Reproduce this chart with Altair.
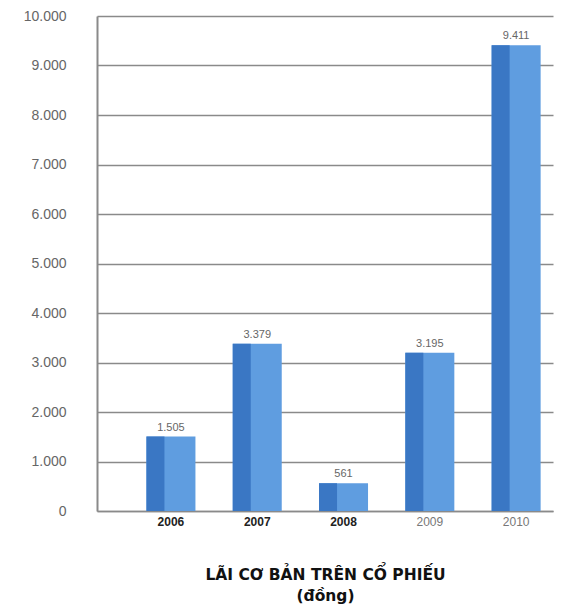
import altair as alt
import pandas as pd

years = ["2006", "2007", "2008", "2009", "2010"]
eps = [1505, 3379, 561, 3195, 9411]
labels = ["1.505", "3.379", "561", "3.195", "9.411"]

df = pd.DataFrame({"year": years, "eps": eps, "label": labels})

FONT = "Liberation Sans"

x_enc = alt.X(
    "year:N",
    sort=years,
    scale=alt.Scale(paddingInner=0.432, paddingOuter=0.358, align=0.8),
    axis=alt.Axis(
        title=["LÃI CƠ BẢN TRÊN CỔ PHIẾU", "(đồng)"],
        titleFont="DejaVu Sans",
        titleFontSize=15.5,
        titleFontWeight="bold",
        titleColor="#111111",
        titlePadding=40,
        titleLineHeight=21,
        labelAngle=0,
        labelFont=FONT,
        labelFontSize=12,
        labelPadding=5,
        labelColor={"condition": {"test": "datum.value <= '2008'", "value": "#222222"}, "value": "#777777"},
        labelFontWeight={"condition": {"test": "datum.value <= '2008'", "value": "bold"}, "value": "normal"},
        ticks=False,
        domainColor="#8a8a8a",
        domainWidth=1.5,
    ),
)

y_enc = alt.Y(
    "eps:Q",
    scale=alt.Scale(domain=[0, 10000], nice=False),
    axis=alt.Axis(
        title=None,
        values=list(range(0, 10001, 1000)),
        labelExpr="replace(format(datum.value, ','), ',', '.')",
        labelFont=FONT,
        labelFontSize=14,
        labelColor="#666666",
        labelPadding=31,
        ticks=False,
        domainColor="#8a8a8a",
        domainWidth=2,
        grid=True,
        gridColor="#8a8a8a",
        gridWidth=1.5,
    ),
)

base = alt.Chart(df)

light = base.mark_bar(color="#5f9de0", width=49).encode(x=x_enc, y=y_enc)
dark = base.mark_bar(color="#3a77c4", width=18, xOffset=-15.5).encode(x=x_enc, y=y_enc)
text = base.mark_text(
    baseline="bottom", dy=-4, font=FONT, fontSize=11, color="#666666"
).encode(x=x_enc, y=y_enc, text="label:N")

chart = (
    alt.layer(light, dark, text)
    .properties(
        width=456,
        height=495,
        autosize=alt.AutoSizeParams(type="none"),
        padding={"left": 97, "top": 16, "right": 11, "bottom": 103},
        background="white",
    )
    .configure_view(stroke=None)
)

chart.save("out.html", embed_options={"renderer": "svg", "actions": False})
